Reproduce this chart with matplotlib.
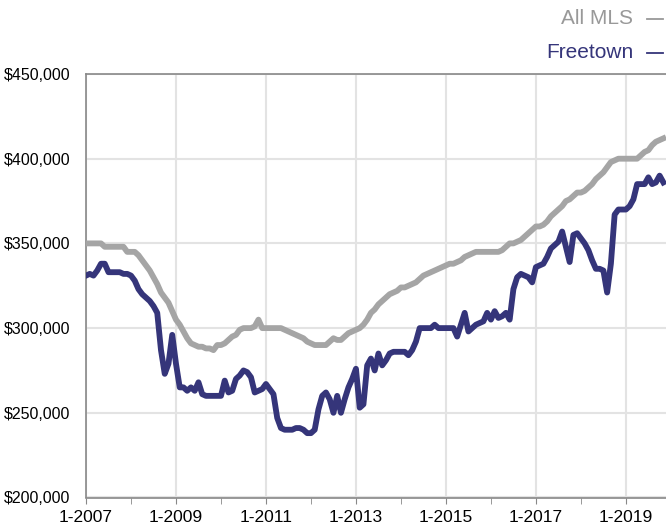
import matplotlib.pyplot as plt
from matplotlib.lines import Line2D

plt.rcParams['font.family'] = ['Liberation Sans', 'DejaVu Sans']

# monthly median prices (thousands), Jan 2007 .. Nov 2019
all_mls = [350, 350, 350, 350, 350, 348, 348, 348, 348, 348, 348, 345, 345, 345,
           343, 340, 337, 334, 330, 326, 321, 318, 315, 310,
           305, 302, 298, 294, 291, 290, 289, 289, 288, 288, 287, 290,
           290, 291, 293, 295, 296, 299, 300, 300, 300, 301, 305, 300,
           300, 300, 300, 300, 300, 299, 298, 297, 296, 295, 294, 292,
           291, 290, 290, 290, 290, 292, 294, 293, 293, 295, 297, 298,
           299, 300, 302, 305, 309, 311, 314, 316, 318, 320, 321, 322,
           324, 324, 325, 326, 327, 329, 331, 332, 333, 334, 335, 336,
           337, 338, 338, 339, 340, 342, 343, 344, 345, 345, 345, 345,
           345, 345, 345, 346, 348, 350, 350, 351, 352, 354, 356, 358,
           360, 360, 361, 363, 366, 368, 370, 372, 375, 376, 378, 380,
           380, 381, 383, 385, 388, 390, 392, 395, 398, 399, 400, 400,
           400, 400, 400, 400, 402, 404, 405, 408, 410, 411, 412]

freetown = [331, 332, 331, 334, 338, 338, 333, 333, 333, 333, 332, 332,
            331, 328, 323, 320, 318, 316, 313, 309, 287, 273, 279, 296,
            279, 265, 265, 263, 265, 263, 268, 261, 260, 260, 260, 260,
            260, 269, 262, 263, 270, 272, 275, 274, 271, 262, 263, 264,
            267, 264, 261, 247, 241, 240, 240, 240, 241, 241, 240, 238,
            238, 240, 252, 260, 262, 258, 250, 260, 250, 258, 265, 270,
            276, 253, 255, 278, 282, 275, 285, 278, 281, 285, 286, 286,
            286, 286, 284, 287, 292, 300, 300, 300, 300, 302, 300, 300,
            300, 300, 300, 295, 302, 309, 298, 300, 302, 303, 304, 309,
            305, 310, 306, 307, 309, 305, 323, 330, 332, 331, 330, 327,
            336, 337, 338, 342, 347, 349, 351, 357, 348, 339, 355, 356,
            353, 350, 346, 340, 335, 335, 334, 321, 338, 367, 370, 370,
            370, 372, 376, 385, 385, 385, 389, 385, 386, 390, 386]

year_labels = ['1-2007', '1-2009', '1-2011', '1-2013', '1-2015', '1-2017', '1-2019']
y_ticks = [200000, 250000, 300000, 350000, 400000, 450000]

months = list(range(len(all_mls)))

W, H = 666, 527
fig = plt.figure(figsize=(W / 100, H / 100), dpi=100)
ax = fig.add_axes([86 / W, 1 - 497.5 / H, 1 - 86 / W, 423.5 / H])

ax.plot(months, [v * 1000 for v in all_mls], color='#a5a5a5', lw=4.2,
        solid_joinstyle='round', zorder=3)
ax.plot(months, [v * 1000 for v in freetown], color='#35357a', lw=4.2,
        solid_joinstyle='round', zorder=4)

ax.set_xlim(0, 154.7)
ax.set_ylim(200000, 450000)

ax.set_xticks(range(0, 145, 24))
ax.set_xticklabels(year_labels)
ax.set_xticks(range(12, 155, 24), minor=True)
ax.set_yticks(y_ticks)
ax.set_yticklabels(['${:,}'.format(v) for v in y_ticks])

ax.grid(True, which='major', color='#e3e3e3', lw=1.5, zorder=0)
ax.tick_params(axis='x', which='both', direction='out', length=4,
               color='#888888', labelsize=12.5, pad=5)
ax.tick_params(axis='y', length=0, labelsize=11.5, pad=11)

for side in ['left', 'bottom', 'top']:
    ax.spines[side].set_color('#888888')
    ax.spines[side].set_linewidth(1.2)
ax.spines['right'].set_visible(False)

# legend: name text + short dash, right aligned
legend = [('All MLS', '#999999', 18), ('Freetown', '#35357a', 52)]
for name, col, ypx in legend:
    fig.text(633 / W, 1 - ypx / H, name, ha='right', va='center',
             fontsize=15, color=col)
    fig.add_artist(Line2D([647 / W, 663 / W], [1 - (ypx + 1) / H] * 2,
                          color=col, lw=1.3, transform=fig.transFigure))

fig.savefig('out.png', dpi=100)
